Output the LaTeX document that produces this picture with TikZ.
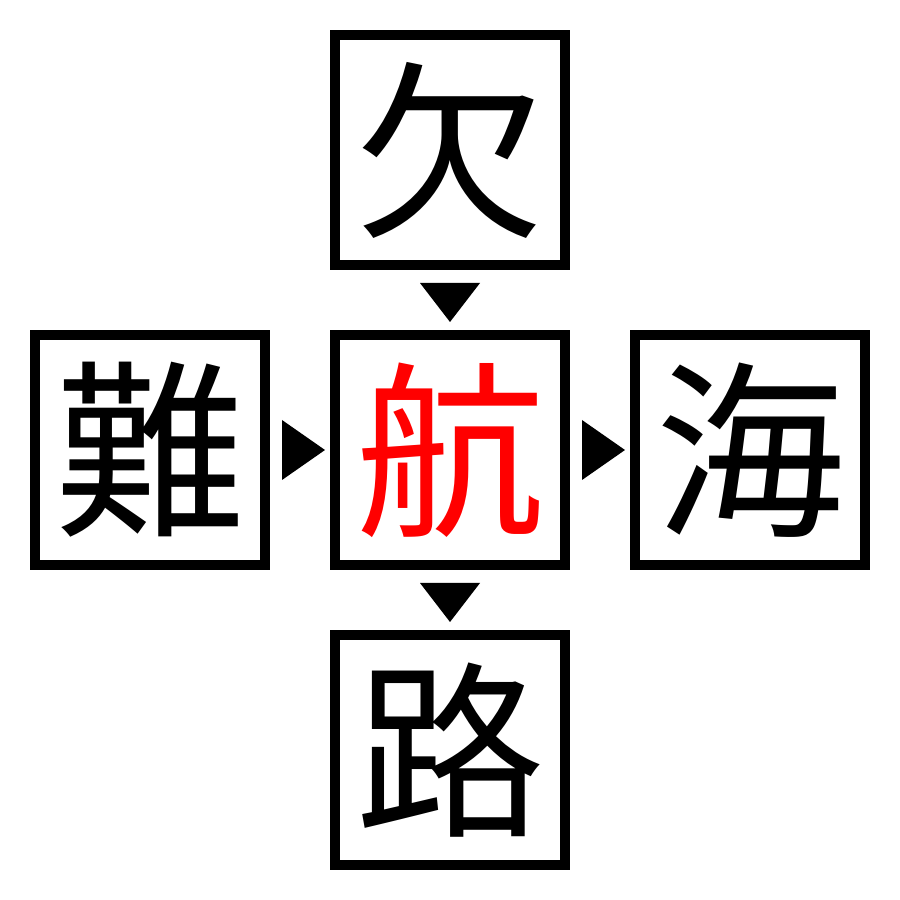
\documentclass[tikz,border=0pt]{standalone}
\usepackage{fontspec}
\newfontfamily\cjk{Noto Sans CJK JP}
\usetikzlibrary{calc}
\definecolor{kred}{RGB}{255,0,0}
\tikzset{
  kbox/.style={draw=black, line width=0.1cm, minimum size=2.3cm, inner sep=0pt, fill=white,
    font=\cjk\fontsize{54}{54}\selectfont},
  arrowtri/.style={fill=black, draw=none}
}
\begin{document}
\begin{tikzpicture}
\useasboundingbox (0,0) rectangle (9,9);
\node[kbox] (top) at (4.5,7.5) {欠};
\node[kbox] (left) at (1.5,4.5) {難};
\node[kbox, text=kred] (center) at (4.5,4.5) {航};
\node[kbox] (right) at (7.5,4.5) {海};
\node[kbox] (bottom) at (4.5,1.5) {路};
% top -> center
\fill[arrowtri] ($(top.south)+(-0.3,-0.13)$) -- ($(top.south)+(0.3,-0.13)$) -- ($(center.north)+(0,0.08)$) -- cycle;
% left -> center
\fill[arrowtri] ($(left.east)+(0.12,0.3)$) -- ($(left.east)+(0.12,-0.3)$) -- ($(center.west)+(-0.05,0)$) -- cycle;
% center -> right
\fill[arrowtri] ($(center.east)+(0.12,0.3)$) -- ($(center.east)+(0.12,-0.3)$) -- ($(right.west)+(-0.05,0)$) -- cycle;
% center -> bottom
\fill[arrowtri] ($(center.south)+(-0.3,-0.13)$) -- ($(center.south)+(0.3,-0.13)$) -- ($(bottom.north)+(0,0.08)$) -- cycle;
\end{tikzpicture}
\end{document}
